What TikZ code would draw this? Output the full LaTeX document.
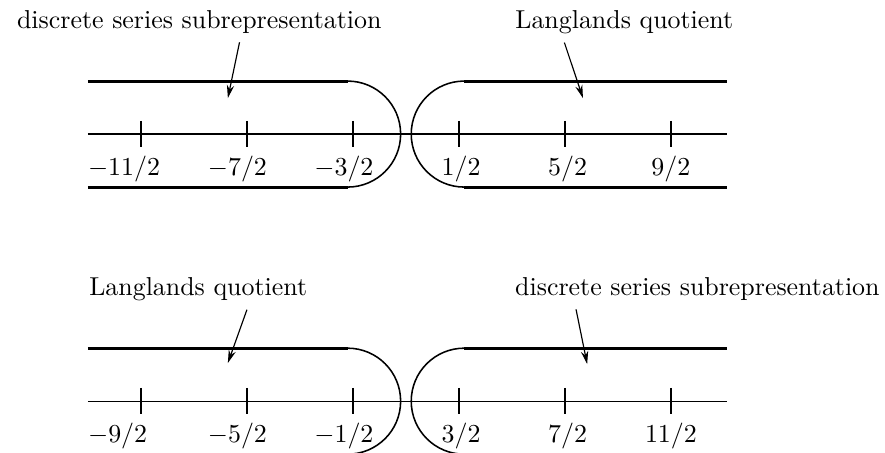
\documentclass[tikz,border=0pt]{standalone}
\usetikzlibrary{arrows.meta,calc}

\begin{document}
\begin{tikzpicture}[x=0.719cm,y=0.719cm,
  axis/.style={line width=0.5pt},
  tickmark/.style={line width=0.5pt},
  origin/.style={line width=1pt},
  halfline/.style={line width=1.2pt},
  turnarc/.style={line width=0.6pt},
  lbl/.style={anchor=north, inner sep=3.33pt},
  caption/.style={anchor=base},
  pointer/.style={line width=0.45pt, -{Stealth[length=5pt,width=2.8pt]}}
]
\useasboundingbox (-8.16,-6.0) rectangle (8.54,2.53);

% Upper picture
\draw[axis] (-6.5,0) -- (5.56,0);
\foreach \x/\lx/\val [count=\i] in {-5.5/-5.82/{-11/2}, -3.5/-3.68/{-7/2}, -1.5/-1.67/{-3/2}, 2.5/2.55/{5/2}, 4.5/4.5/{9/2}}{
  \draw[tickmark] (\x,0.25) -- (\x,-0.25);
  \node[lbl] (up\i) at (\lx,-0.25) {$\val$};
}
\draw[origin] (0.5,0.25) -- (0.5,-0.25);
\node[lbl] (upHalf) at (0.54,-0.25) {$1/2$};

\draw[halfline] (-6.5,1) -- (-1.6,1);
\draw[halfline] (-6.5,-1) -- (-1.6,-1);
\draw[turnarc] (-1.6,1) arc[start angle=90,end angle=-90,radius=1];
\draw[halfline] (0.6,1) -- (5.56,1);
\draw[halfline] (0.6,-1) -- (5.56,-1);
\draw[turnarc] (0.6,1) arc[start angle=90,end angle=270,radius=1];

\node[caption] (dsTop) at (-4.40,2.0) {discrete series subrepresentation};
\node[caption] (lqTop) at (3.62,2.0) {Langlands quotient};
\coordinate (dsTopTip) at (-3.86,0.68);
\coordinate (lqTopTip) at (2.84,0.68);
\draw[pointer] ($(dsTop.south)+(0.76,0)$) -- (dsTopTip);
\draw[pointer] ($(lqTop.south)+(-1.13,0)$) -- (lqTopTip);

% Lower picture
\begin{scope}[shift={(0,-5.04)}]
\draw[axis] (-6.5,0) -- (5.56,0);
\foreach \x/\lx/\val [count=\i] in {-5.5/-5.94/{-9/2}, -3.5/-3.68/{-5/2}, -1.5/-1.67/{-1/2}, 2.5/2.55/{7/2}, 4.5/4.5/{11/2}}{
  \draw[tickmark] (\x,0.25) -- (\x,-0.25);
  \node[lbl] (low\i) at (\lx,-0.25) {$\val$};
}
\draw[origin] (0.5,0.25) -- (0.5,-0.25);
\node[lbl] (lowHalf) at (0.54,-0.25) {$3/2$};

\draw[halfline] (-6.5,1) -- (-1.6,1);
\draw[turnarc] (-1.6,1) arc[start angle=90,end angle=-90,radius=1];
\draw[halfline] (0.6,1) -- (5.56,1);
\draw[turnarc] (0.6,1) arc[start angle=90,end angle=270,radius=1];

\node[caption] (lqLow) at (-4.42,2.0) {Langlands quotient};
\node[caption] (dsLow) at (5.0,2.0) {discrete series subrepresentation};
\coordinate (lqLowTip) at (-3.86,0.72);
\coordinate (dsLowTip) at (2.92,0.70);
\draw[pointer] ($(lqLow.south)+(0.92,0)$) -- (lqLowTip);
\draw[pointer] ($(dsLow.south)+(-2.29,0)$) -- (dsLowTip);
\end{scope}
\end{tikzpicture}
\end{document}
